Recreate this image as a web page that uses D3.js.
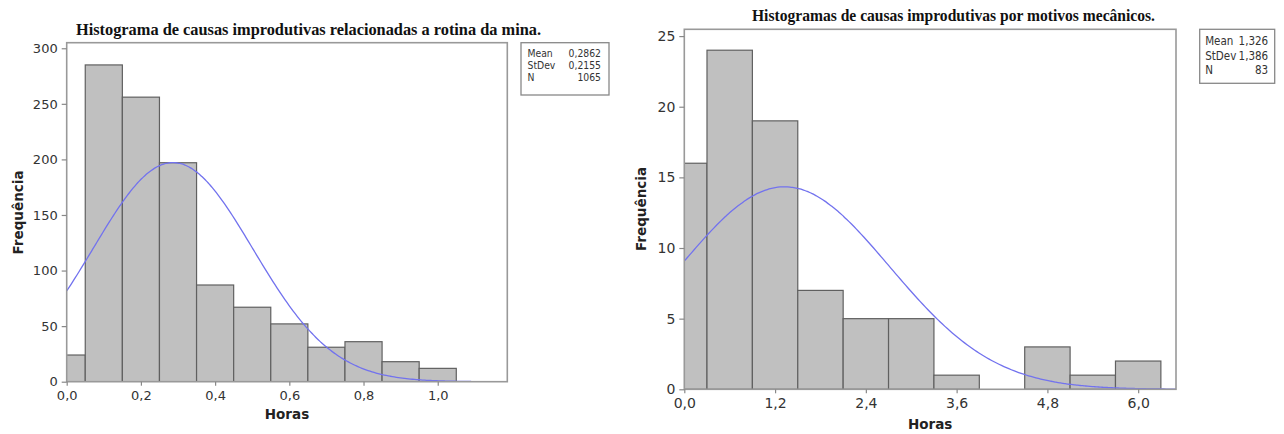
<!DOCTYPE html>
<html>
<head>
<meta charset="utf-8">
<script src="https://cdn.jsdelivr.net/npm/d3@7"></script>
<style>
  body { margin: 0; background: #fff; }
  svg { display: block; }
</style>
</head>
<body>
<svg id="chart" width="1284" height="434"></svg>
<script>
// --- data ---
const rotinaMids = [0.0, 0.1, 0.2, 0.3, 0.4, 0.5, 0.6, 0.7, 0.8, 0.9, 1.0];
const rotinaCounts = [24, 285, 256, 197, 87, 67, 52, 31, 36, 18, 12];
const rotinaXTicks = [0.0, 0.2, 0.4, 0.6, 0.8, 1.0];
const rotinaYTicks = [0, 50, 100, 150, 200, 250, 300];
const rotinaStats = ["Mean", "StDev", "N"];
const rotinaStatValues = ["0,2862", "0,2155", "1065"];

const mecanicosMids = [0.0, 0.6, 1.2, 1.8, 2.4, 3.0, 3.6, 4.2, 4.8, 5.4, 6.0];
const mecanicosCounts = [16, 24, 19, 7, 5, 5, 1, 0, 3, 1, 2];
const mecanicosXTicks = [0.0, 1.2, 2.4, 3.6, 4.8, 6.0];
const mecanicosYTicks = [0, 5, 10, 15, 20, 25];
const mecanicosStats = ["Mean", "StDev", "N"];
const mecanicosStatValues = ["1,326", "1,386", "83"];

const ptBR = d3.formatLocale({ decimal: ",", thousands: ".", grouping: [3], currency: ["R$", ""] });
const fmt1 = ptBR.format(".1f");

const svg = d3.select("#chart");

function histogram(opts) {
  const g = svg.append("g");

  const x = d3.scaleLinear().domain(opts.xDomain).range([opts.left, opts.right]);
  const y = d3.scaleLinear().domain(opts.yDomain).range([opts.bottom, opts.top]);

  // clip so the first bin (centred on 0) is cut at the axis
  g.append("clipPath")
    .attr("id", opts.id + "-clip")
    .append("rect")
    .attr("x", opts.left)
    .attr("y", opts.top)
    .attr("width", opts.right - opts.left)
    .attr("height", opts.bottom - opts.top);

  const plot = g.append("g").attr("clip-path", `url(#${opts.id}-clip)`);

  const bins = opts.mids.map((m, i) => ({
    x0: m - opts.binWidth / 2,
    x1: m + opts.binWidth / 2,
    count: opts.counts[i]
  })).filter((d) => d.count > 0);

  plot.selectAll("rect.bar")
    .data(bins)
    .enter()
    .append("rect")
    .attr("class", "bar")
    .attr("x", (d) => x(d.x0))
    .attr("y", (d) => y(d.count))
    .attr("width", (d) => x(d.x1) - x(d.x0))
    .attr("height", (d) => y(0) - y(d.count))
    .attr("fill", "#c0c0c0")
    .attr("stroke", "#606060")
    .attr("stroke-width", 1.2);

  // fitted normal curve: N * binWidth * pdf(mean, sd)
  const n = d3.sum(opts.counts);
  const pdf = (v) => Math.exp(-0.5 * ((v - opts.mean) / opts.sd) ** 2) / (opts.sd * Math.sqrt(2 * Math.PI));
  const curveX = d3.range(0, opts.curveEnd, opts.curveEnd / 200).concat([opts.curveEnd]);
  const line = d3.line()
    .x((d) => x(d))
    .y((d) => y(n * opts.binWidth * pdf(d)))
    .curve(d3.curveBasis);

  plot.append("path")
    .datum(curveX)
    .attr("d", line)
    .attr("fill", "none")
    .attr("stroke", "#7272ee")
    .attr("stroke-width", 1.3);

  // frame
  g.append("rect")
    .attr("x", opts.left)
    .attr("y", opts.top)
    .attr("width", opts.right - opts.left)
    .attr("height", opts.bottom - opts.top)
    .attr("fill", "none")
    .attr("stroke", "#999")
    .attr("stroke-width", 1.6);

  // axes
  const xAxis = g.append("g")
    .attr("transform", `translate(0,${opts.bottom})`)
    .call(d3.axisBottom(x).tickValues(opts.xTicks).tickFormat(fmt1).tickSize(4).tickPadding(5));
  const yAxis = g.append("g")
    .attr("transform", `translate(${opts.left},0)`)
    .call(d3.axisLeft(y).tickValues(opts.yTicks).tickSize(5).tickPadding(4));

  [xAxis, yAxis].forEach((a) => {
    a.select(".domain").remove();
    a.selectAll(".tick line").attr("stroke", "#888").attr("stroke-width", 1.2);
    a.selectAll(".tick text")
      .attr("fill", "#333")
      .style("font-family", "'DejaVu Sans', sans-serif")
      .style("font-size", opts.tickFont + "px");
  });

  // title
  g.append("text")
    .attr("x", opts.titleX)
    .attr("y", opts.titleY)
    .attr("textLength", opts.titleWidth)
    .attr("lengthAdjust", "spacingAndGlyphs")
    .style("font-family", "'Liberation Serif', serif")
    .style("font-weight", "bold")
    .style("font-size", "16px")
    .attr("fill", "#111")
    .text(opts.title);

  // axis titles
  g.append("text")
    .attr("x", (opts.left + opts.right) / 2)
    .attr("y", opts.xLabelY)
    .attr("text-anchor", "middle")
    .style("font-family", "'DejaVu Sans', sans-serif")
    .style("font-weight", "bold")
    .style("font-size", "13.5px")
    .attr("fill", "#222")
    .text("Horas");

  g.append("text")
    .attr("transform", `translate(${opts.yLabelX},${opts.yLabelY}) rotate(-90)`)
    .attr("text-anchor", "middle")
    .attr("textLength", 84)
    .attr("lengthAdjust", "spacingAndGlyphs")
    .style("font-family", "'DejaVu Sans', sans-serif")
    .style("font-weight", "bold")
    .style("font-size", "13.5px")
    .attr("fill", "#222")
    .text("Frequência");

  // stats box
  const box = g.append("g");
  box.append("rect")
    .attr("x", opts.box[0])
    .attr("y", opts.box[1])
    .attr("width", opts.box[2])
    .attr("height", opts.box[3])
    .attr("fill", "#fff")
    .attr("stroke", "#888")
    .attr("stroke-width", 1.3);

  opts.stats.forEach((s, i) => {
    const yy = opts.box[1] + opts.boxFirst + i * opts.boxStep;
    box.append("text")
      .attr("x", opts.box[0] + opts.boxPadL)
      .attr("y", yy)
      .style("font-family", "'DejaVu Sans Condensed', 'DejaVu Sans', sans-serif")
      .style("font-stretch", "condensed")
      .style("font-size", opts.boxFont + "px")
      .attr("fill", "#333")
      .text(s);
    box.append("text")
      .attr("x", opts.box[0] + opts.box[2] - opts.boxPadR)
      .attr("y", yy)
      .attr("text-anchor", "end")
      .style("font-family", "'DejaVu Sans Condensed', 'DejaVu Sans', sans-serif")
      .style("font-stretch", "condensed")
      .style("font-size", opts.boxFont + "px")
      .attr("fill", "#333")
      .text(opts.statValues[i]);
  });
}

histogram({
  id: "rotina",
  mids: rotinaMids,
  counts: rotinaCounts,
  binWidth: 0.1,
  mean: 0.2862,
  sd: 0.2155,
  curveEnd: 1.09,
  xDomain: [0, 1.1875],
  yDomain: [0, 305],
  xTicks: rotinaXTicks,
  yTicks: rotinaYTicks,
  left: 66.7, right: 507.3, top: 42.7, bottom: 381.7,
  tickFont: 13,
  title: "Histograma de causas improdutivas relacionadas a rotina da mina.",
  titleX: 76, titleY: 35, titleWidth: 465,
  xLabelY: 419,
  yLabelX: 23, yLabelY: 212.5,
  stats: rotinaStats,
  statValues: rotinaStatValues,
  box: [521, 42.7, 88, 52.3],
  boxFirst: 13.8, boxStep: 12.4, boxPadL: 6.5, boxPadR: 8, boxFont: 10.3
});

histogram({
  id: "mecanicos",
  mids: mecanicosMids,
  counts: mecanicosCounts,
  binWidth: 0.6,
  mean: 1.326,
  sd: 1.386,
  curveEnd: 6.5,
  xDomain: [0, 6.5],
  yDomain: [0, 25.48],
  xTicks: mecanicosXTicks,
  yTicks: mecanicosYTicks,
  left: 684.3, right: 1176, top: 29.3, bottom: 389.3,
  tickFont: 14,
  title: "Histogramas de causas improdutivas por motivos mecânicos.",
  titleX: 752, titleY: 21, titleWidth: 403,
  xLabelY: 429,
  yLabelX: 646, yLabelY: 209,
  stats: mecanicosStats,
  statValues: mecanicosStatValues,
  box: [1199.7, 29.3, 75, 54],
  boxFirst: 15.8, boxStep: 14.6, boxPadL: 5.5, boxPadR: 6.5, boxFont: 11.5
});
</script>
</body>
</html>
